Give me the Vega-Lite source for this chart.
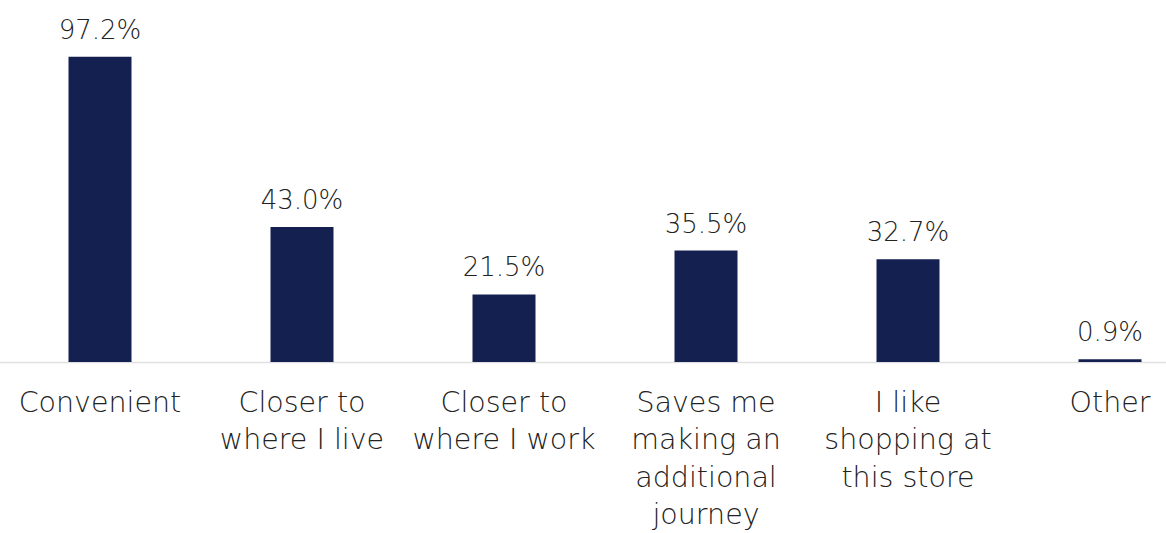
{
  "$schema": "https://vega.github.io/schema/vega-lite/v6.json",
  "width": 1166,
  "height": 362,
  "autosize": "none",
  "padding": {"left": 0, "top": 0, "right": 0, "bottom": 171},
  "background": "white",
  "config": {"view": {"stroke": null}, "font": "DejaVu Sans"},
  "data": {
    "values": [
      {"reason": "Convenient", "pct": 0.972},
      {"reason": "Closer to|where I live", "pct": 0.430},
      {"reason": "Closer to|where I work", "pct": 0.215},
      {"reason": "Saves me|making an|additional|journey", "pct": 0.355},
      {"reason": "I like|shopping at|this store", "pct": 0.327},
      {"reason": "Other", "pct": 0.009}
    ]
  },
  "encoding": {
    "x": {
      "field": "reason",
      "type": "nominal",
      "sort": null,
      "scale": {"range": [-1, 1211], "paddingInner": 0, "paddingOuter": 0},
      "axis": {
        "title": null,
        "labelAngle": 0,
        "labelExpr": "split(datum.label, '|')",
        "labelFontSize": 28.5,
        "labelFontWeight": 300,
        "labelColor": "#222222",
        "labelLineHeight": 37.5,
        "labelPadding": 26,
        "labelLimit": 0,
        "ticks": false,
        "domainColor": "#e0e0e0",
        "domainWidth": 1.5
      }
    },
    "y": {
      "field": "pct",
      "type": "quantitative",
      "scale": {"domain": [0, 1.153]},
      "axis": null
    }
  },
  "layer": [
    {"mark": {"type": "bar", "width": 63, "color": "#142050"}},
    {
      "mark": {"type": "text", "baseline": "bottom", "dy": -13, "fontSize": 26, "fontWeight": 300, "color": "#222222"},
      "encoding": {"text": {"field": "pct", "type": "quantitative", "format": ".1%"}}
    }
  ]
}
